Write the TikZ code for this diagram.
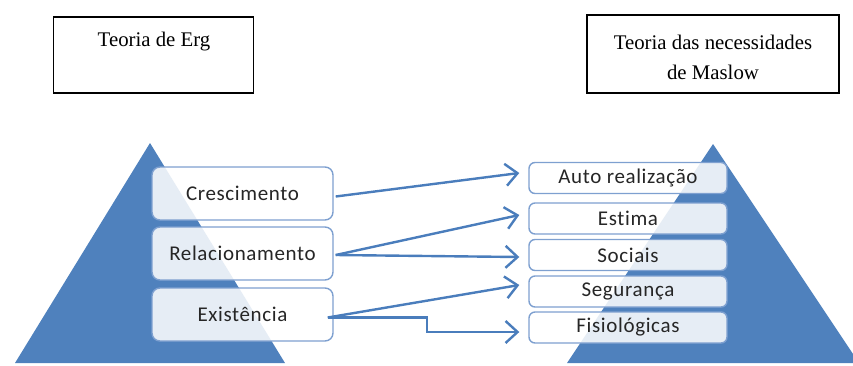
\documentclass[tikz,border=0pt]{standalone}
\usepackage{fontspec}
\setmainfont{Liberation Serif}
\newfontfamily\boxfont[Ligatures=CommonOff,LetterSpace=3]{Carlito}
\usetikzlibrary{arrows.meta,calc}
\definecolor{pyr}{RGB}{79,129,189}
\definecolor{linkblue}{RGB}{74,125,188}
\definecolor{boxedge}{RGB}{126,160,208}
\definecolor{boxtext}{RGB}{38,38,38}
\tikzset{
  title/.style={draw=black, line width=1.6pt, minimum width=200pt, minimum height=76pt},
  titletext/.style={font=\fontsize{20.8}{30}\selectfont, align=center},
  ergbox/.style={draw=boxedge, line width=1.4pt, rounded corners=8pt, fill=white,
    fill opacity=0.86, text opacity=1, text=boxtext, minimum width=181pt,
    minimum height=53pt, font=\boxfont\fontsize{21}{24}\selectfont},
  needbox/.style={draw=boxedge, line width=1.4pt, rounded corners=6pt, fill=white,
    fill opacity=0.86, text opacity=1, text=boxtext, minimum width=198pt,
    minimum height=31pt, font=\boxfont\fontsize{21}{24}\selectfont},
  link/.style={draw=linkblue, line width=2.4pt,
    -{Straight Barb[length=12pt,width=22pt,line width=2.4pt]}},
}
\begin{document}
\begin{tikzpicture}[x=1pt,y=-1pt]
\path[use as bounding box] (0,0) rectangle (853,365);
\clip (0,0) rectangle (853,365);

% title boxes
\node[title] (ergT) at (153.5,55) {};
\node[titletext] (ergL) at (154,42) {Teoria de Erg};
\node[title, minimum width=252pt, minimum height=78pt] (masT) at (713,54) {};
\node[titletext] (masL) at (713,57) {Teoria das necessidades\\de Maslow};

% pyramids
\fill[pyr] (15,363) -- (150,143) -- (285,363) -- cycle;
\fill[pyr] (567,363) -- (713,144) -- (859,363) -- cycle;

% ERG levels
\node[ergbox] (cre) at (242.5,193.5) {Crescimento};
\node[ergbox] (rel) at (242.5,253.5) {Relacionamento};
\node[ergbox] (exi) at (242.5,314.5) {Existência};

% Maslow levels
\node[needbox] (aut) at (628,178) {Auto realização};
\node[needbox] (est) at (628,218.5) {Estima};
\node[needbox] (soc) at (628,255) {Sociais};
\node[needbox] (seg) at (628,291.5) {Segurança};
\node[needbox] (fis) at (628,327.5) {Fisiológicas};

% connector ends
\coordinate (s1) at ($(cre.east)+(2,3)$);
\coordinate (s2) at ($(rel.east)+(2,1.5)$);
\coordinate (s3) at ($(exi.east)+(-6,3)$);
\coordinate (e1) at ($(aut.west)+(-9,-5)$);
\coordinate (e2) at ($(est.west)+(-9,-3.5)$);
\coordinate (e3) at ($(soc.west)+(-9,2)$);
\coordinate (e4) at ($(seg.west)+(-9,-6.5)$);
\coordinate (e5) at ($(fis.west)+(-9,4.5)$);

\draw[link] (s1) -- (e1);
\draw[link] (s2) -- (e2);
\draw[link] (s2) -- (e3);
\draw[link] (s3) -- (e4);
\draw[link] (s3) -- ++(99,0) |- (e5);
\end{tikzpicture}
\end{document}
